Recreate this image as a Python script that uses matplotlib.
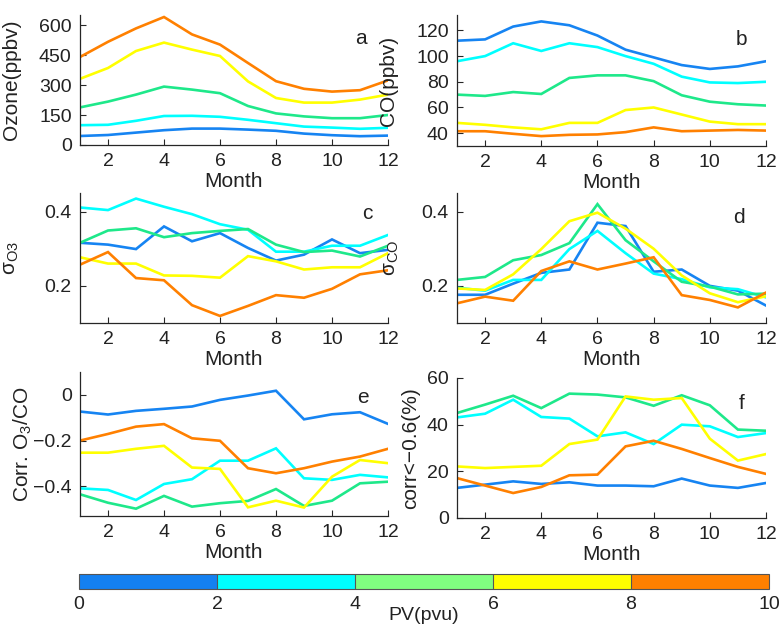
import numpy as np
import matplotlib
matplotlib.use("Agg")
import matplotlib.pyplot as plt
from matplotlib.colors import ListedColormap, BoundaryNorm
from matplotlib.cm import ScalarMappable

plt.rcParams['font.family'] = ['Liberation Sans', 'DejaVu Sans']
plt.rcParams['mathtext.fontset'] = 'custom'
plt.rcParams['mathtext.rm'] = 'Liberation Sans'
plt.rcParams['mathtext.it'] = 'Liberation Sans:italic'

months = np.arange(1, 13)

# PV bins 0-2, 2-4, 4-6, 6-8, 8-10
line_colors = ['#1684F2', '#00FFFF', '#1EE88A', '#FFFF00', '#FF8000']
bar_colors = ['#1480F0', '#00FFFF', '#80FF80', '#FFFF00', '#FF8000']
pv_bounds = [0, 2, 4, 6, 8, 10]

ozone = [
    [45, 50, 62, 74, 82, 82, 77, 71, 57, 49, 44, 47],
    [99, 101, 121, 145, 146, 141, 126, 109, 92, 87, 81, 86],
    [188, 217, 252, 292, 277, 259, 195, 158, 143, 134, 134, 150],
    [331, 385, 470, 512, 477, 445, 318, 235, 212, 212, 227, 252],
    [440, 516, 583, 640, 553, 502, 410, 319, 281, 267, 274, 323],
]
co = [
    [112, 113, 123, 127, 124, 116, 105, 99, 93, 90, 92, 96],
    [96, 100, 110, 104, 110, 107, 100, 94, 84, 79.5, 79, 80],
    [70, 69, 72, 70.5, 83, 85, 85, 80.5, 69.5, 64.5, 62.5, 61.5],
    [48, 46.5, 44.5, 43, 48, 48, 58, 60, 54.5, 49, 47, 47],
    [41.5, 41.5, 39.5, 37.7, 38.7, 39, 40.8, 44.5, 41.5, 42, 42.5, 42],
]
sigma_o3 = [
    [0.316, 0.311, 0.299, 0.360, 0.320, 0.342, 0.302, 0.268, 0.284, 0.325, 0.288, 0.297],
    [0.411, 0.404, 0.435, 0.413, 0.393, 0.366, 0.351, 0.292, 0.292, 0.308, 0.308, 0.337],
    [0.316, 0.349, 0.355, 0.331, 0.342, 0.348, 0.353, 0.311, 0.291, 0.295, 0.279, 0.308],
    [0.277, 0.260, 0.260, 0.228, 0.227, 0.222, 0.280, 0.266, 0.244, 0.250, 0.250, 0.288],
    [0.257, 0.291, 0.221, 0.215, 0.148, 0.119, 0.146, 0.175, 0.168, 0.192, 0.231, 0.242],
]
sigma_co = [
    [0.176, 0.176, 0.206, 0.235, 0.244, 0.370, 0.361, 0.238, 0.244, 0.200, 0.187, 0.147],
    [0.195, 0.187, 0.216, 0.216, 0.299, 0.348, 0.288, 0.233, 0.218, 0.196, 0.191, 0.169],
    [0.216, 0.224, 0.269, 0.283, 0.315, 0.420, 0.323, 0.266, 0.211, 0.198, 0.177, 0.179],
    [0.193, 0.189, 0.231, 0.299, 0.374, 0.397, 0.354, 0.300, 0.228, 0.180, 0.156, 0.172],
    [0.153, 0.171, 0.160, 0.240, 0.266, 0.244, 0.260, 0.277, 0.175, 0.162, 0.142, 0.182],
]
corr = [
    [-0.073, -0.086, -0.070, -0.061, -0.051, -0.022, -0.003, 0.018, -0.107, -0.085, -0.076, -0.127],
    [-0.409, -0.416, -0.460, -0.390, -0.369, -0.288, -0.288, -0.234, -0.365, -0.372, -0.350, -0.361],
    [-0.435, -0.472, -0.498, -0.442, -0.489, -0.474, -0.464, -0.412, -0.486, -0.463, -0.387, -0.380],
    [-0.253, -0.253, -0.236, -0.223, -0.318, -0.324, -0.492, -0.463, -0.493, -0.358, -0.285, -0.299],
    [-0.200, -0.171, -0.139, -0.128, -0.190, -0.201, -0.321, -0.343, -0.321, -0.292, -0.270, -0.236],
]
frac = [
    [12.9, 14.3, 15.7, 14.6, 15.3, 13.9, 13.9, 13.6, 16.9, 13.9, 12.9, 15.0],
    [43.1, 44.7, 50.7, 43.3, 42.6, 35.0, 36.7, 31.7, 40.0, 39.3, 34.7, 36.4],
    [45.0, 48.6, 52.4, 47.1, 53.3, 52.9, 51.7, 48.1, 52.6, 48.3, 37.9, 37.4],
    [22.1, 21.4, 21.9, 22.4, 31.7, 33.6, 52.1, 50.7, 51.4, 34.0, 24.6, 27.4],
    [17.1, 13.9, 10.7, 13.3, 18.3, 18.6, 30.7, 33.1, 29.6, 25.7, 21.9, 18.9],
]

W, H = 781, 629
fig = plt.figure(figsize=(W / 100, H / 100), dpi=100)

def box(left, right, top, bottom):
    return [left / W, 1 - bottom / H, (right - left) / W, (bottom - top) / H]

panels = [
    (ozone, box(80, 388, 15, 145), (0, 650), [0, 150, 300, 450, 600], None,
     'Ozone(ppbv)', 'a', (0.912, 0.82), -0.19),
    (co, box(457, 766, 15, 146), (30, 132), [40, 60, 80, 100, 120], None,
     'CO(ppbv)', 'b', (0.919, 0.815), -0.19),
    (sigma_o3, box(80, 388, 193, 323), (0.1, 0.45), [0.2, 0.4], ['0.2', '0.4'],
     r'σ$_{\mathrm{O3}}$', 'c', (0.932, 0.845), -0.19),
    (sigma_co, box(457, 766, 193, 323), (0.1, 0.45), [0.2, 0.4], ['0.2', '0.4'],
     r'σ$_{\mathrm{CO}}$', 'd', (0.913, 0.81), -0.18),
    (corr, box(80, 388, 372, 516), (-0.53, 0.1), [-0.4, -0.2, 0], ['\u22120.4', '\u22120.2', '0'],
     r'Corr. O$_3$/CO', 'e', (0.919, 0.825), -0.15),
    (frac, box(457, 766, 378, 518), (0, 60), [0, 20, 40, 60], None,
     'corr<\u22120.6(%)', 'f', (0.922, 0.82), -0.12),
]

for data, pos, ylim, yticks, ylabels, ylab, letter, lpos, ylx in panels:
    ax = fig.add_axes(pos)
    for series, c in zip(data, line_colors):
        ax.plot(months, series, color=c, lw=1.9, solid_joinstyle='miter')
    ax.set_xlim(1, 12)
    ax.set_ylim(*ylim)
    ax.set_xticks([2, 4, 6, 8, 10, 12])
    ax.set_yticks(yticks)
    if ylabels:
        ax.set_yticklabels(ylabels)
    for s in ['top', 'right']:
        ax.spines[s].set_visible(False)
    for s in ['left', 'bottom']:
        ax.spines[s].set_color('#262626')
        ax.spines[s].set_linewidth(0.9)
    ax.tick_params(direction='in', length=4, width=0.8, colors='#262626',
                   labelsize=14, labelcolor='#222222')
    ax.tick_params(axis='x', pad=6)
    ax.tick_params(axis='y', pad=6)
    ax.set_xlabel('Month', fontsize=15, color='#222222', labelpad=1)
    ax.set_ylabel(ylab, fontsize=15, color='#222222')
    ax.yaxis.set_label_coords(ylx, 0.5)
    ax.text(lpos[0], lpos[1], letter, transform=ax.transAxes, fontsize=15,
            color='#222222', ha='center', va='center')

cax = fig.add_axes(box(79, 769, 574, 589))
cmap = ListedColormap(bar_colors)
norm = BoundaryNorm(pv_bounds, cmap.N)
cb = fig.colorbar(ScalarMappable(norm=norm, cmap=cmap), cax=cax,
                  orientation='horizontal', drawedges=True)
cb.set_ticks(pv_bounds)
cb.set_ticklabels([str(v) for v in pv_bounds])
cb.outline.set_edgecolor('#555555')
cb.outline.set_linewidth(0.8)
cb.dividers.set_color('#555555')
cb.dividers.set_linewidth(0.8)
cax.tick_params(length=0, pad=5, labelsize=14, labelcolor='#222222')
cax.set_xlabel('PV(pvu)', fontsize=14, color='#222222', labelpad=-4)

fig.savefig('out.png', dpi=100)
